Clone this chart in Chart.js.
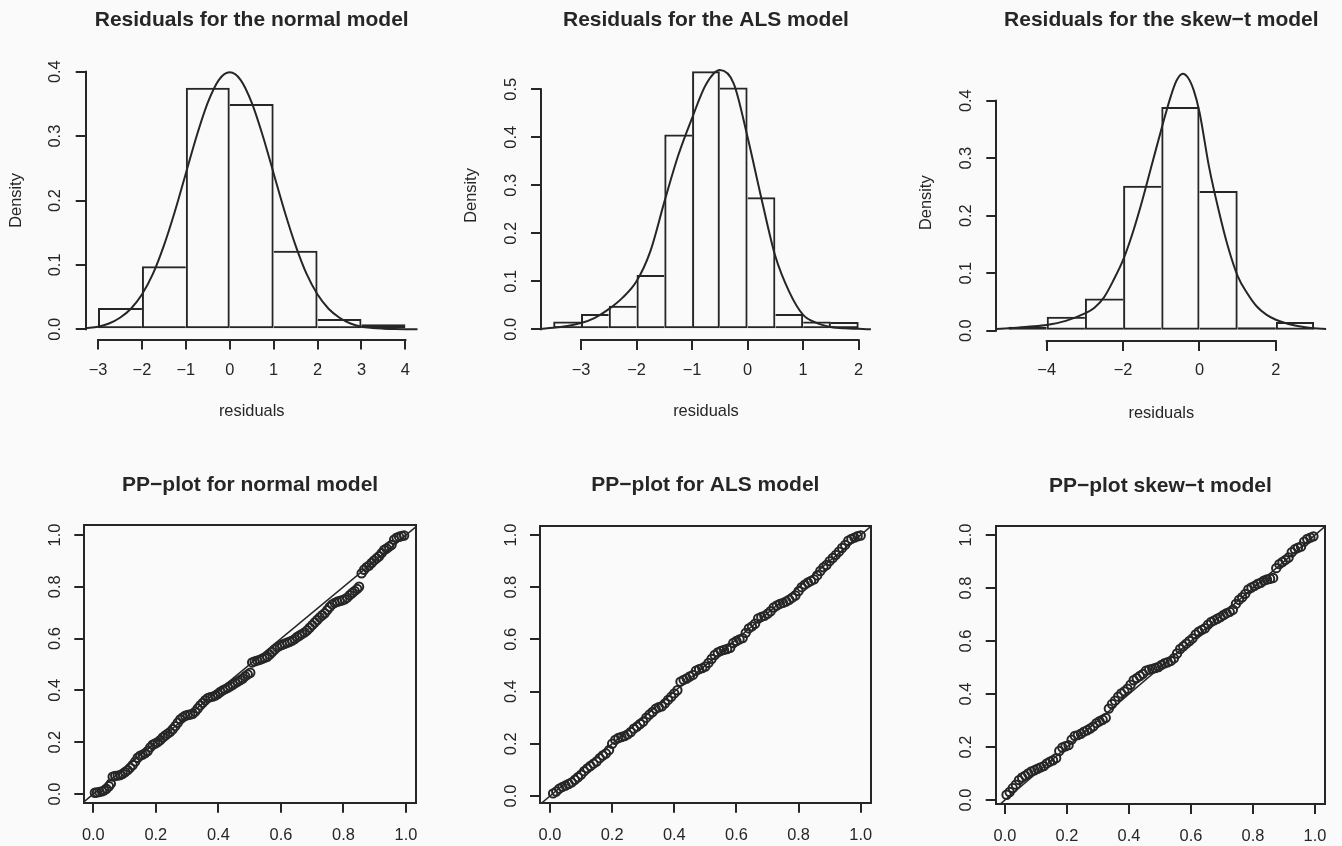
<!DOCTYPE html>
<html><head><meta charset="utf-8">
<script src="https://cdn.jsdelivr.net/npm/chart.js@4.4.1/dist/chart.umd.min.js"></script>
<style>
html,body{margin:0;padding:0;background:#fafafa;}
#wrap{position:relative;width:1342px;height:846px;overflow:hidden;background:#fafafa;}
canvas{position:absolute;}
</style></head><body>
<div id="wrap">
<canvas id="c1" width="447" height="423" style="left:0px;top:0px;width:447px;height:423px"></canvas>
<canvas id="c2" width="447" height="423" style="left:447px;top:0px;width:447px;height:423px"></canvas>
<canvas id="c3" width="448" height="423" style="left:894px;top:0px;width:448px;height:423px"></canvas>
<canvas id="c4" width="447" height="423" style="left:0px;top:423px;width:447px;height:423px"></canvas>
<canvas id="c5" width="447" height="423" style="left:447px;top:423px;width:447px;height:423px"></canvas>
<canvas id="c6" width="448" height="423" style="left:894px;top:423px;width:448px;height:423px"></canvas>
</div>
<script>
// ---------------- DATA ----------------
const titles = [
  'Residuals for the normal model', 'Residuals for the ALS model', 'Residuals for the skew\u2212t model',
  'PP\u2212plot for normal model', 'PP\u2212plot for ALS model', 'PP\u2212plot skew\u2212t model'
];
const histXTitle = 'residuals';
const histYTitle = 'Density';

// Histogram: normal model
const normBreaks  = [-3, -2, -1, 0, 1, 2, 3, 4];
const normDensity = [0.033, 0.098, 0.375, 0.350, 0.122, 0.016, 0.008];
const normCurveX  = [-3.28,-3,-2.75,-2.5,-2.25,-2,-1.75,-1.5,-1.25,-1,-0.75,-0.5,-0.25,0,0.25,0.5,0.75,1,1.25,1.5,1.75,2,2.25,2.5,2.75,3,3.25,3.5,3.75,4,4.28];
const normCurveY  = [0.002,0.004,0.009,0.018,0.032,0.054,0.086,0.130,0.183,0.242,0.301,0.352,0.387,0.399,0.387,0.352,0.301,0.242,0.183,0.130,0.086,0.054,0.032,0.018,0.009,0.004,0.002,0.001,0.0004,0.0001,0];
const normXTicks  = [-3, -2, -1, 0, 1, 2, 3, 4];
const normYTicks  = [0, 0.1, 0.2, 0.3, 0.4];

// Histogram: ALS model
const alsBreaks  = [-3.5, -3, -2.5, -2, -1.5, -1, -0.5, 0, 0.5, 1, 1.5, 2];
const alsDensity = [0.016, 0.032, 0.049, 0.113, 0.406, 0.5375, 0.504, 0.275, 0.032, 0.016, 0.015];
const alsCurveX  = [-3.72,-3.5,-3.25,-3,-2.75,-2.5,-2.25,-2,-1.75,-1.5,-1.25,-1,-0.75,-0.5,-0.25,0,0.25,0.5,0.75,1,1.25,1.5,1.75,2,2.22];
const alsCurveY  = [0.001,0.003,0.007,0.013,0.024,0.042,0.066,0.100,0.163,0.265,0.362,0.440,0.510,0.540,0.512,0.400,0.272,0.152,0.078,0.030,0.013,0.005,0.002,0.001,0];
const alsXTicks  = [-3, -2, -1, 0, 1, 2];
const alsYTicks  = [0, 0.1, 0.2, 0.3, 0.4, 0.5];

// Histogram: skew-t model
const stBreaks  = [-5, -4, -3, -2, -1, 0, 1, 2, 3];
const stDensity = [0.007, 0.024, 0.056, 0.252, 0.389, 0.243, 0.006, 0.015];
const stCurveX  = [-5.32,-5,-4.5,-4,-3.5,-3,-2.75,-2.5,-2.25,-2,-1.75,-1.5,-1.25,-1,-0.75,-0.6,-0.44,-0.3,-0.15,0,0.25,0.5,0.75,1,1.25,1.5,1.75,2,2.5,3,3.32];
const stCurveY  = [0.003,0.004,0.007,0.010,0.017,0.030,0.040,0.058,0.088,0.123,0.170,0.226,0.288,0.350,0.408,0.435,0.447,0.440,0.418,0.380,0.285,0.210,0.145,0.095,0.065,0.042,0.028,0.019,0.009,0.004,0.003];
const stXTicks  = [-4, -2, 0, 2];
const stYTicks  = [0, 0.1, 0.2, 0.3, 0.4];

// PP plots
const ppTicks = [0, 0.2, 0.4, 0.6, 0.8, 1.0];
const ppDiagonal = [-0.05, 1.05];

const ppNormX = [0.005,0.012,0.02,0.028,0.035,0.042,0.05,0.056,
 0.062,0.07,0.078,0.086,0.094,0.102,0.11,0.118,0.126,0.134,0.142,0.15,0.158,0.166,0.174,0.182,0.19,0.198,0.206,0.214,0.222,0.23,0.238,0.246,0.254,0.262,0.27,0.278,0.286,0.294,0.302,0.31,0.318,0.326,0.334,0.342,0.35,0.358,0.366,0.374,0.382,0.39,0.398,0.406,0.414,0.422,0.43,0.438,0.446,0.454,0.462,0.47,0.478,0.486,0.494,0.502,
 0.508,0.516,0.524,0.532,0.54,0.548,0.556,0.564,0.572,0.58,0.588,0.596,0.604,0.612,0.62,0.628,0.636,0.644,0.652,0.66,0.668,0.676,0.684,0.692,0.7,0.708,0.716,0.724,0.732,0.74,0.748,0.756,0.764,0.772,0.78,0.788,0.796,0.804,0.812,0.82,0.828,0.836,0.844,0.85,
 0.858,0.866,0.874,0.882,0.89,0.898,0.906,0.914,0.922,0.93,0.938,0.946,0.954,0.962,0.97,0.978,0.986,0.994];
const ppNormY = [0.005,0.006,0.008,0.01,0.014,0.02,0.03,0.04,
 0.067,0.07,0.071,0.073,0.078,0.085,0.092,0.102,0.112,0.125,0.14,0.148,0.152,0.158,0.166,0.18,0.19,0.195,0.2,0.208,0.218,0.226,0.233,0.24,0.25,0.262,0.275,0.288,0.296,0.302,0.305,0.307,0.31,0.318,0.33,0.342,0.352,0.362,0.37,0.374,0.376,0.38,0.386,0.394,0.4,0.405,0.41,0.416,0.422,0.428,0.434,0.44,0.446,0.455,0.462,0.468,
 0.508,0.512,0.515,0.518,0.522,0.526,0.53,0.538,0.548,0.558,0.566,0.572,0.576,0.58,0.584,0.588,0.592,0.598,0.606,0.612,0.618,0.624,0.632,0.642,0.652,0.662,0.672,0.682,0.69,0.698,0.71,0.722,0.732,0.738,0.742,0.745,0.748,0.752,0.758,0.768,0.776,0.784,0.792,0.8,
 0.852,0.866,0.876,0.882,0.892,0.902,0.91,0.918,0.93,0.942,0.948,0.955,0.962,0.982,0.99,0.993,0.996,0.998];

const ppAlsX = [0.01,0.02,0.03,0.04,0.05,0.06,0.07,0.08,0.09,0.10,0.11,0.12,0.13,0.14,0.15,0.16,0.17,0.18,0.19,0.20,0.21,0.22,0.23,0.24,0.25,0.26,0.27,0.28,0.29,0.30,0.31,0.32,0.33,0.34,0.35,0.36,0.37,0.38,0.39,0.40,0.41,0.42,0.43,0.44,0.45,0.46,0.47,0.48,0.49,0.50,0.51,0.52,0.53,0.54,0.55,0.56,0.57,0.58,0.59,0.60,0.61,0.62,0.63,0.64,0.65,0.66,0.67,0.68,0.69,0.70,0.71,0.72,0.73,0.74,0.75,0.76,0.77,0.78,0.79,0.80,0.81,0.82,0.83,0.84,0.85,0.86,0.87,0.88,0.89,0.90,0.91,0.92,0.93,0.94,0.95,0.96,0.97,0.98,0.99,1.0];
const ppAlsY = [0.01,0.017,0.028,0.035,0.04,0.046,0.052,0.062,0.072,0.082,0.095,0.106,0.115,0.124,0.132,0.145,0.155,0.163,0.176,0.2,0.215,0.222,0.226,0.23,0.236,0.245,0.258,0.266,0.276,0.285,0.3,0.312,0.322,0.334,0.34,0.344,0.355,0.368,0.38,0.393,0.405,0.438,0.445,0.45,0.458,0.464,0.48,0.486,0.49,0.496,0.51,0.525,0.54,0.55,0.556,0.56,0.563,0.568,0.586,0.594,0.6,0.605,0.625,0.642,0.65,0.66,0.68,0.686,0.69,0.698,0.708,0.722,0.73,0.736,0.74,0.745,0.752,0.76,0.768,0.785,0.8,0.81,0.818,0.824,0.83,0.845,0.862,0.876,0.885,0.9,0.912,0.924,0.936,0.95,0.962,0.978,0.985,0.99,0.995,0.998];

const ppStX = [0.005,0.015,0.025,0.035,0.045,0.055,0.065,0.075,0.085,0.095,0.105,0.115,0.125,0.135,0.145,0.155,0.165,0.175,0.185,0.195,0.205,0.215,0.225,0.235,0.245,0.255,0.265,0.275,0.285,0.295,0.305,0.315,0.325,0.335,0.345,0.355,0.365,0.375,0.385,0.395,0.405,0.415,0.425,0.435,0.445,0.455,0.465,0.475,0.485,0.495,0.505,0.515,0.525,0.535,0.545,0.555,0.565,0.575,0.585,0.595,0.605,0.615,0.625,0.635,0.645,0.655,0.665,0.675,0.685,0.695,0.705,0.715,0.725,0.735,0.745,0.755,0.765,0.775,0.785,0.795,0.805,0.815,0.825,0.835,0.845,0.855,0.865,0.875,0.885,0.895,0.905,0.915,0.925,0.935,0.945,0.955,0.965,0.975,0.985,0.995];
const ppStY = [0.02,0.03,0.045,0.058,0.075,0.085,0.092,0.1,0.108,0.112,0.118,0.123,0.128,0.138,0.145,0.15,0.158,0.185,0.198,0.203,0.207,0.228,0.242,0.245,0.25,0.258,0.263,0.27,0.278,0.29,0.297,0.303,0.31,0.345,0.362,0.375,0.39,0.402,0.41,0.42,0.435,0.452,0.46,0.468,0.476,0.488,0.492,0.495,0.498,0.502,0.51,0.516,0.52,0.525,0.535,0.553,0.57,0.58,0.59,0.6,0.61,0.625,0.635,0.642,0.648,0.662,0.672,0.678,0.684,0.69,0.698,0.705,0.71,0.718,0.74,0.755,0.765,0.778,0.795,0.802,0.808,0.815,0.82,0.828,0.832,0.835,0.838,0.875,0.89,0.898,0.906,0.915,0.935,0.946,0.952,0.956,0.975,0.985,0.99,0.995];

// ---------------- STYLE / LAYOUT ----------------
const FONT = 'Liberation Sans';
const INK = '#262626';
const TICK_FS = 16.4, TITLE_FS = 21;
const LH = TICK_FS * 1.2, TLH = TITLE_FS * 1.2;
Chart.defaults.font.family = FONT;
Chart.defaults.color = INK;

const mctx = document.createElement('canvas').getContext('2d');
function textW(s, size) { mctx.font = size + 'px ' + FONT; return mctx.measureText(s).width; }
function fmtInt(v) { return v < 0 ? '\u2212' + Math.abs(v) : String(v); }
function fmt1(v) { return Number(v).toFixed(1); }

const rAxisPlugin = {
  id: 'rAxis',
  afterDatasetsDraw(chart, args, opts) {
    const ctx = chart.ctx;
    ctx.save();
    ctx.strokeStyle = INK; ctx.lineWidth = 2; ctx.lineCap = 'square';
    if (opts.box) {
      const a = chart.chartArea;
      ctx.strokeRect(Math.round(a.left), Math.round(a.top), Math.round(a.right) - Math.round(a.left), Math.round(a.bottom) - Math.round(a.top));
    } else {
      const xs = chart.scales.x, ys = chart.scales.y;
      const xt = xs.ticks, yt = ys.ticks;
      const yy = Math.round(xs.top), xx = Math.round(ys.right);
      ctx.beginPath();
      ctx.moveTo(xs.getPixelForValue(xt[0].value), yy);
      ctx.lineTo(xs.getPixelForValue(xt[xt.length - 1].value), yy);
      ctx.moveTo(xx, ys.getPixelForValue(yt[0].value));
      ctx.lineTo(xx, ys.getPixelForValue(yt[yt.length - 1].value));
      ctx.stroke();
    }
    ctx.restore();
  }
};

function gridOpts() {
  return { display: true, drawOnChartArea: false, drawTicks: true, tickLength: 10,
           color: INK, lineWidth: 2, tickColor: INK, tickWidth: 2, offset: false };
}

function scaleOpts(s, axis, ticksArr, fmt) {
  const A = s.area;
  const o = {
    type: 'linear',
    min: axis === 'x' ? s.xmin : s.ymin,
    max: axis === 'x' ? s.xmax : s.ymax,
    offset: false,
    grid: gridOpts(),
    border: { display: false },
    afterBuildTicks: sc => { sc.ticks = ticksArr.map(v => ({ value: v })); },
    ticks: { autoSkip: false, font: { family: FONT, size: TICK_FS }, color: INK, callback: v => fmt(v) }
  };
  if (axis === 'x') {
    o.afterFit = sc => { sc.height = s.H - A.b; };
    o.ticks.maxRotation = 0; o.ticks.minRotation = 0;
    o.ticks.padding = s.xLab - 10 - LH / 2;
    if (s.xTitle) o.title = { display: true, text: s.xTitle, font: { family: FONT, size: TICK_FS }, color: INK,
                              padding: { top: 0, bottom: Math.max(0, s.H - s.xTitleY - LH / 2) } };
  } else {
    const yw = Math.max(...ticksArr.map(v => textW(fmt(v), TICK_FS)));
    o.afterFit = sc => { sc.width = A.l; };
    o.ticks.minRotation = 90; o.ticks.maxRotation = 90;
    o.ticks.crossAlign = 'center';
    o.ticks.padding = s.yLab - 10 - yw / 2;
    if (s.yTitle) o.title = { display: true, text: s.yTitle, font: { family: FONT, size: TICK_FS }, color: INK,
                              padding: { top: s.yTitleX - LH / 2, bottom: 0 } };
  }
  return o;
}

function baseOptions(s) {
  const A = s.area;
  return {
    responsive: false, animation: false, devicePixelRatio: 1,
    layout: { padding: { left: 0, top: 0, right: s.W - A.r, bottom: 0 } },
    plugins: {
      legend: { display: false }, tooltip: { enabled: false },
      title: { display: true, text: s.title, fullSize: false, color: INK,
               font: { family: FONT, size: TITLE_FS, weight: 'bold' },
               padding: { top: s.titleY - TLH / 2, bottom: A.t - s.titleY - TLH / 2 } },
      rAxis: { box: !!s.box }
    }
  };
}

function histChart(id, s) {
  const bars = s.dens.map((d, i) => ({ x: (s.breaks[i] + s.breaks[i + 1]) / 2, y: d }));
  const curve = s.cx.map((x, i) => ({ x: x, y: s.cy[i] }));
  const n = bars.length, D = s.dens;
  const opts = baseOptions(s);
  opts.scales = { x: scaleOpts(s, 'x', s.xTicks, fmtInt), y: scaleOpts(s, 'y', s.yTicks, fmt1) };
  // each shared edge is drawn once, by the taller of the two neighbouring bars
  const bw = c => {
    const i = c.dataIndex;
    return { top: 2, bottom: 2,
             left: (i === 0 || D[i - 1] < D[i]) ? 2 : 0,
             right: (i === n - 1 || D[i + 1] <= D[i]) ? 2 : 0 };
  };
  return new Chart(document.getElementById(id), {
    type: 'bar',
    data: { datasets: [
      { type: 'line', data: curve, borderColor: INK, borderWidth: 2, pointRadius: 0, fill: false,
        cubicInterpolationMode: 'monotone', order: 0 },
      { type: 'bar', data: bars, backgroundColor: 'rgba(255,255,255,0)', borderColor: INK,
        borderWidth: bw, borderSkipped: false, inflateAmount: 0, barPercentage: 1, categoryPercentage: 1, order: 1 }
    ]},
    options: opts,
    plugins: [rAxisPlugin]
  });
}

function ppChart(id, s) {
  const pts = s.px.map((x, i) => ({ x: x, y: s.py[i] }));
  const diag = ppDiagonal.map(v => ({ x: v, y: v }));
  const opts = baseOptions(s);
  opts.scales = { x: scaleOpts(s, 'x', ppTicks, fmt1), y: scaleOpts(s, 'y', ppTicks, fmt1) };
  return new Chart(document.getElementById(id), {
    type: 'scatter',
    data: { datasets: [
      { type: 'line', data: diag, borderColor: INK, borderWidth: 1.5, pointRadius: 0, fill: false, clip: 0, order: 0 },
      { type: 'scatter', data: pts, pointRadius: 4.2, pointBorderWidth: 2, pointBorderColor: INK,
        pointBackgroundColor: 'rgba(0,0,0,0)', pointStyle: 'circle', order: 1 }
    ]},
    options: opts,
    plugins: [rAxisPlugin]
  });
}

histChart('c1', { W: 447, H: 423, area: { l: 85.7, r: 417.7, t: 61.4, b: 339.6 },
  xmin: -3.28, xmax: 4.28, ymin: -0.016, ymax: 0.416,
  breaks: normBreaks, dens: normDensity, cx: normCurveX, cy: normCurveY,
  xTicks: normXTicks, yTicks: normYTicks, title: titles[0], titleY: 20,
  xTitle: histXTitle, xTitleY: 411.7, yTitle: histYTitle, yTitleX: 16, xLab: 30.4, yLab: 30 });

histChart('c2', { W: 447, H: 423, area: { l: 94.0, r: 423.9, t: 51.0, b: 340.0 },
  xmin: -3.72, xmax: 2.22, ymin: -0.0223, ymax: 0.5798,
  breaks: alsBreaks, dens: alsDensity, cx: alsCurveX, cy: alsCurveY,
  xTicks: alsXTicks, yTicks: alsYTicks, title: titles[1], titleY: 20,
  xTitle: histXTitle, xTitleY: 411.7, yTitle: histYTitle, yTitleX: 24.7, xLab: 30, yLab: 29.5 });

histChart('c3', { W: 448, H: 423, area: { l: 102.3, r: 432.3, t: 64.6, b: 340.9 },
  xmin: -5.32, xmax: 3.32, ymin: -0.0178, ymax: 0.4628,
  breaks: stBreaks, dens: stDensity, cx: stCurveX, cy: stCurveY,
  xTicks: stXTicks, yTicks: stYTicks, title: titles[2], titleY: 20.5,
  xTitle: histXTitle, xTitleY: 413, yTitle: histYTitle, yTitleX: 32.7, xLab: 30, yLab: 30 });

ppChart('c4', { W: 447, H: 423, area: { l: 84.3, r: 416, t: 102, b: 379.7 }, box: true,
  xmin: -0.0288, xmax: 1.032, ymin: -0.0336, ymax: 1.0386,
  px: ppNormX, py: ppNormY, title: titles[3], titleY: 62, xLab: 32.3, yLab: 29.3 });

ppChart('c5', { W: 447, H: 423, area: { l: 93, r: 423.7, t: 102.7, b: 379.7 }, box: true,
  xmin: -0.0322, xmax: 1.0322, ymin: -0.0257, ymax: 1.0356,
  px: ppAlsX, py: ppAlsY, title: titles[4], titleY: 62, xLab: 32.3, yLab: 28.5 });

ppChart('c6', { W: 448, H: 423, area: { l: 101.7, r: 431, t: 103, b: 381 }, box: true,
  xmin: -0.030, xmax: 1.0323, ymin: -0.0151, ymax: 1.034,
  px: ppStX, py: ppStY, title: titles[5], titleY: 63.5, xLab: 32.7, yLab: 29 });
</script>
</body></html>
